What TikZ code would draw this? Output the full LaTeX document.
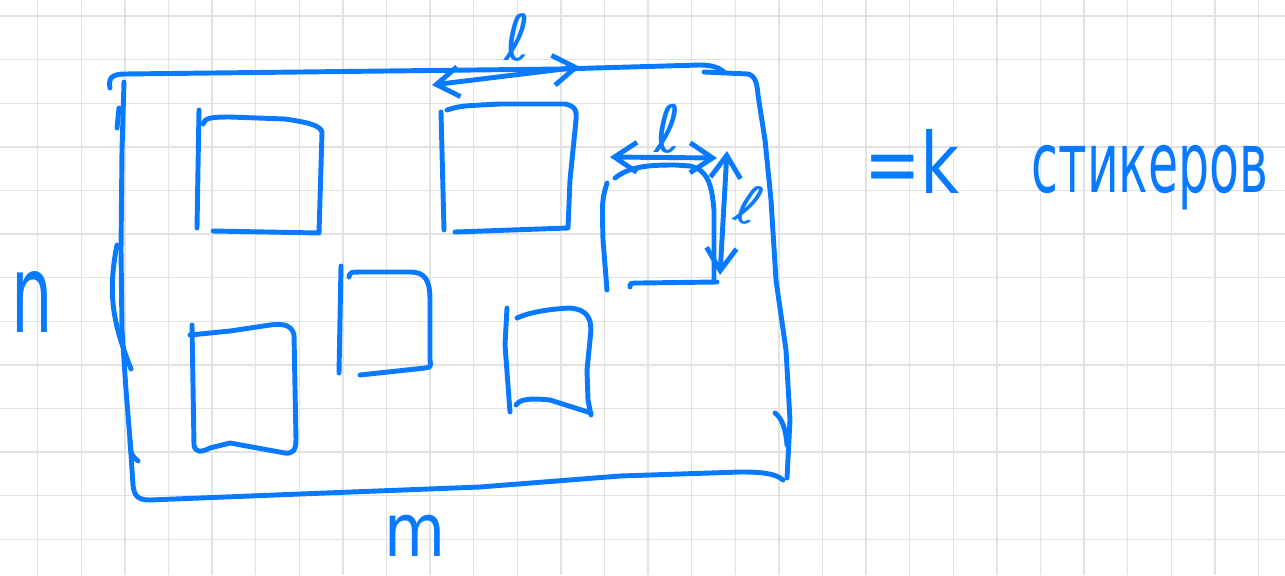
\documentclass[tikz,border=0pt]{standalone}
\usepackage{fontspec}
\setmainfont{DejaVu Sans}
\usepackage{graphicx}
\usetikzlibrary{arrows.meta}
\definecolor{pen}{RGB}{8,122,255}
\definecolor{paper}{RGB}{226,226,226}
\tikzset{
    ink/.style={draw=pen, line width=2.8pt, line cap=round, line join=round},
    dimarrow/.style={ink, {Straight Barb[length=4.5mm,width=6mm]}-{Straight Barb[length=4.5mm,width=6mm]}},
    hand/.style={text=pen, inner sep=0pt}
}

\begin{document}
\begin{tikzpicture}[x=0.02cm,y=-0.02cm]
\useasboundingbox (0,0) rectangle (1285,575);
% squared paper
\foreach \k in {0,...,28}
    \draw[paper, line width=0.8pt] ({37.7+43.6*\k},0) -- ({37.7+43.6*\k},575);
\foreach \k in {0,...,12}
    \draw[paper, line width=0.8pt] (0,{16+43.6*\k}) -- (1285,{16+43.6*\k});

% sheet m x n
\draw[ink] (110,88) .. controls (108,78) and (112,74) .. (125,74) -- (300,72) -- (560,69) -- (700,65) .. controls (712,65) and (720,68) .. (724,72);
\draw[ink] (704,72) -- (748,74) .. controls (755,76) and (757,82) .. (758,95) -- (765,140) -- (771,200) -- (776,280) -- (786,350) -- (790,420) -- (787,478);
\draw[ink] (783,480) .. controls (775,473) and (760,472) .. (740,472) -- (620,476) -- (480,487) -- (300,494) -- (150,500) .. controls (138,500) and (134,496) .. (133,485) -- (130,440) -- (126,390) -- (122,330) -- (121,250) -- (122,150) -- (124,82);
\draw[ink] (117,245) .. controls (106,300) and (116,330) .. (131,369);
\draw[ink] (119,108) -- (117,128);
\draw[ink] (130,440) .. controls (131,455) .. (138,461);
\draw[ink] (775,413) .. controls (782,418) and (786,430) .. (787,445);

% stickers
\draw[ink] (199,110) -- (197,228);
\draw[ink] (203,124) .. controls (205,118) and (210,117) .. (230,117) -- (285,119) .. controls (305,122) and (322,125) .. (322,133) -- (319,233) -- (213,231);

\draw[ink] (441,112) -- (444,230);
\draw[ink] (447,110) .. controls (460,106) .. (500,104) -- (565,104) .. controls (575,106) and (577,110) .. (576,120) -- (570,180) -- (568,228) -- (455,232);

\draw[ink] (607,183) .. controls (602,200) .. (603,240) -- (607,290);
\draw[ink] (615,178) .. controls (630,166) and (650,165) .. (675,165) -- (690,166) .. controls (710,170) and (712,190) .. (714,210) -- (714,280);
\draw[ink] (630,287) .. controls (630,283) .. (640,283) -- (717,282);

\draw[ink] (341,266) -- (339,373);
\draw[ink] (349,277) .. controls (350,272) .. (365,272) -- (410,272) .. controls (425,272) and (430,280) .. (430,300) -- (430,360) .. controls (431,367) .. (425,368) -- (360,375);

\draw[ink] (190,335) -- (230,331) -- (270,325) .. controls (285,323) and (292,326) .. (294,335) -- (296,440) .. controls (296,450) and (293,454) .. (285,453) -- (230,443) -- (210,448) .. controls (200,453) and (195,452) .. (194,445) -- (192,325);

\draw[ink] (507,308) -- (505,345) -- (510,412);
\draw[ink] (517,318) .. controls (530,312) and (550,309) .. (570,308) .. controls (588,310) and (593,318) .. (590,340) -- (587,370) -- (588,400) -- (591,415);
\draw[ink] (516,405) .. controls (520,399) and (530,398) .. (550,400) -- (591,413);

% sizes
\coordinate (topL) at (432,85);
\coordinate (topR) at (580,67);
\coordinate (sideL) at (610,157);
\coordinate (sideR) at (717,158);
\coordinate (upT) at (727,151);
\coordinate (upB) at (720,275);
\draw[dimarrow] (topL) -- (topR);
\draw[dimarrow] (sideL) -- (sideR);
\draw[dimarrow] (upT) -- (upB);

\node[hand, font=\fontsize{36}{36}\selectfont, anchor=base] (ltop) at (518,60) {ℓ};
\node[hand, font=\fontsize{37}{37}\selectfont, anchor=base] (lside) at (668,152) {ℓ};
\node[hand, font=\fontsize{31}{31}\selectfont, rotate=-20] (lup) at (750,205) {ℓ};
\node[hand, font=\fontsize{62}{62}\selectfont, anchor=base] (nlabel) at (32,332) {\scalebox{0.6}[1]{n}};
\node[hand, font=\fontsize{42}{42}\selectfont, anchor=base] (mlabel) at (415,556) {\scalebox{0.85}[1]{m}};
\node[hand, font=\fontsize{48}{48}\selectfont, anchor=base] (klabel) at (912,193) {\scalebox{0.8}[1]{=k}};
\node[hand, font=\fontsize{48}{48}\selectfont, anchor=base] (stickers) at (1150,192) {\scalebox{0.58}[1]{стикеров}};
\end{tikzpicture}
\end{document}
